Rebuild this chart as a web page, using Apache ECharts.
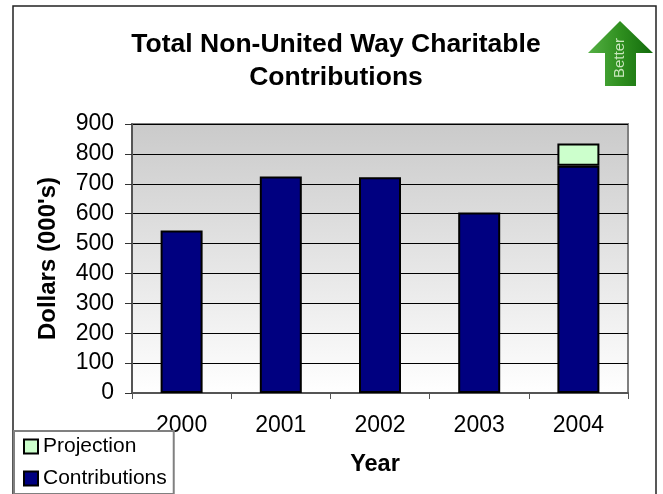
<!DOCTYPE html>
<html><head><meta charset="utf-8">
<style>html,body{margin:0;padding:0;background:#fff}#c{width:663px;height:494px}</style>
<script src="https://cdn.jsdelivr.net/npm/echarts@6/dist/echarts.min.js"></script>
</head><body><div id="c"></div>
<script>
const years = ['2000','2001','2002','2003','2004'];
const contributions = [544, 724, 722, 604, 760];
const projection = [null, null, null, null, 75];
const font = '"Liberation Sans", Arial, sans-serif';
const chart = echarts.init(document.getElementById('c'), null, {renderer:'canvas'});
chart.setOption({
  animation:false,
  backgroundColor:'#fff',
  title:{text:'Total Non-United Way Charitable\nContributions',left:331,top:23,textAlign:'center',
    textStyle:{fontFamily:font,fontSize:26.5,fontWeight:'bold',color:'#000',lineHeight:33}},
  grid:{left:132,right:35,top:124,bottom:101,show:true,borderColor:'#808080',borderWidth:2,
    backgroundColor:{type:'linear',x:0,y:0,x2:0,y2:1,colorStops:[{offset:0,color:'#cacaca'},{offset:1,color:'#ffffff'}]}},
  xAxis:{type:'category',data:years,name:'Year',nameLocation:'middle',nameGap:60,
    nameTextStyle:{fontFamily:font,fontSize:23.5,fontWeight:'bold',color:'#000',padding:[0,10,0,0]},
    axisLine:{lineStyle:{color:'#555',width:2}},
    axisTick:{show:true,length:6,lineStyle:{color:'#555',width:1}},
    axisLabel:{fontFamily:font,fontSize:23,color:'#000',margin:21}},
  yAxis:{type:'value',min:0,max:900,interval:100,name:"Dollars (000's)",nameLocation:'middle',nameGap:72,
    nameTextStyle:{fontFamily:font,fontSize:24,fontWeight:'bold',color:'#000'},
    axisLine:{show:true,lineStyle:{color:'#555',width:2}},
    axisTick:{show:true,length:7,lineStyle:{color:'#333',width:1}},
    axisLabel:{fontFamily:font,fontSize:23,color:'#000',margin:18},
    splitLine:{show:true,lineStyle:{color:'#000',width:1}}},
  legend:{orient:'vertical',left:14,bottom:0,padding:[5,7,5,9],itemGap:11,itemWidth:14,itemHeight:14,
    backgroundColor:'#fff',borderColor:'#808080',borderWidth:2,
    textStyle:{fontFamily:font,fontSize:21,color:'#000'},
    data:[{name:'Projection',icon:'rect'},{name:'Contributions',icon:'rect'}]},
  series:[
    {name:'Contributions',type:'bar',stack:'a',data:contributions,barWidth:42,
      itemStyle:{color:'#000080',borderColor:'#000',borderWidth:2}},
    {name:'Projection',type:'bar',stack:'a',data:projection,barWidth:42,
      itemStyle:{color:'#ccffcc',borderColor:'#000',borderWidth:2}}
  ],
  graphic:[
    {type:'rect',z:-1,silent:true,shape:{x:13,y:6,width:643,height:500},style:{fill:'none',stroke:'#222',lineWidth:1.5}},
    {type:'polygon',z:10,shape:{points:[[620,21],[653,53],[636,53],[636,86],[605,86],[605,53],[588,53]]},
      style:{fill:{type:'linear',x:0,y:0,x2:1,y2:0,colorStops:[{offset:0,color:'#55b044'},{offset:0.5,color:'#2f8f1f'},{offset:1,color:'#126b0c'}]}}},
    {type:'text',z:11,x:620,y:58,rotation:Math.PI/2,
      style:{text:'Better',x:0,y:0,align:'center',verticalAlign:'middle',font:'15px '+font,fill:'#c9e6bd'}}
  ]
});
</script></body></html>
